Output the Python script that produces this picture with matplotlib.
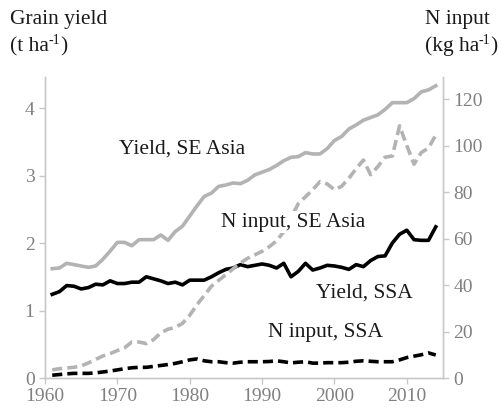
import matplotlib
matplotlib.use("Agg")
import matplotlib.pyplot as plt
import numpy as np

plt.rcParams['font.family'] = ['Liberation Serif', 'DejaVu Serif']

years = np.arange(1961, 2015)

# grain yield, t/ha (left axis)
yield_se_asia = [1.62, 1.63, 1.70, 1.68, 1.66, 1.64, 1.66, 1.76, 1.88, 2.01,
                 2.01, 1.96, 2.05, 2.05, 2.05, 2.12, 2.04, 2.17, 2.25, 2.40,
                 2.55, 2.69, 2.74, 2.84, 2.86, 2.89, 2.88, 2.93, 3.01, 3.05,
                 3.09, 3.15, 3.22, 3.27, 3.28, 3.34, 3.32, 3.32, 3.40, 3.52,
                 3.58, 3.69, 3.75, 3.82, 3.86, 3.90, 3.98, 4.08, 4.08, 4.08,
                 4.14, 4.24, 4.27, 4.33]
yield_ssa = [1.24, 1.28, 1.37, 1.36, 1.32, 1.34, 1.39, 1.38, 1.44, 1.40,
             1.40, 1.42, 1.42, 1.50, 1.47, 1.44, 1.40, 1.42, 1.38, 1.45,
             1.45, 1.45, 1.50, 1.56, 1.61, 1.63, 1.68, 1.65, 1.67, 1.69,
             1.67, 1.63, 1.70, 1.50, 1.58, 1.70, 1.60, 1.63, 1.67, 1.66,
             1.64, 1.61, 1.68, 1.65, 1.74, 1.80, 1.81, 2.00, 2.13, 2.19,
             2.05, 2.04, 2.04, 2.24]

# N input, kg/ha (right axis)
n_se_asia = [3.5, 4.0, 4.3, 4.6, 5.2, 6.5, 8.0, 9.5, 10.5, 11.8,
             13.0, 15.5, 15.5, 14.8, 16.5, 19.5, 21.0, 21.8, 23.5, 27.0,
             31.5, 35.5, 39.5, 42.0, 44.5, 47.0, 49.5, 51.5, 53.0, 54.5,
             56.5, 59.0, 63.0, 69.0, 75.0, 78.0, 81.0, 84.5, 83.5, 81.0,
             82.5, 86.0, 90.0, 93.8, 87.5, 91.0, 95.0, 95.5, 108.5, 100.0,
             92.0, 97.0, 99.0, 104.5]
n_ssa = [1.2, 1.5, 1.8, 2.0, 2.0, 2.0, 2.2, 2.6, 3.0, 3.5,
         4.0, 4.4, 4.6, 4.6, 5.0, 5.4, 5.8, 6.3, 7.0, 7.8,
         8.2, 7.4, 7.0, 7.0, 6.6, 6.4, 6.8, 7.0, 7.0, 7.0,
         7.1, 7.4, 7.0, 6.5, 6.8, 7.0, 6.4, 6.4, 6.6, 6.6,
         6.6, 6.8, 7.2, 7.4, 7.2, 7.0, 7.0, 7.0, 7.8, 8.8,
         9.4, 10.0, 10.8, 9.9]

gray = '#b3b3b3'
tick_gray = '#808080'
spine_gray = '#c8c8c8'
ink = '#1a1a1a'

fig = plt.figure(figsize=(5.01, 4.08), dpi=100)
ax = fig.add_axes([0.0898, 0.0735, 0.7944, 0.7377])
ax2 = ax.twinx()

ax.plot(years, yield_se_asia, color=gray, lw=2.6, zorder=3)
ax.plot(years, yield_ssa, color='black', lw=2.6, zorder=3)
ax2.plot(years, n_se_asia, color=gray, lw=2.6, dashes=(2.8, 1.4), zorder=1)
ax2.plot(years, n_ssa, color='black', lw=2.6, dashes=(2.8, 1.4), zorder=1)

ax.set_xlim(1960, 2015)
ax.set_ylim(0, 4.46)
ax2.set_ylim(0, 129.5)
ax.set_xticks(range(1960, 2011, 10))
ax.set_yticks([0, 1, 2, 3, 4])
ax2.set_yticks(range(0, 121, 20))

for a in (ax, ax2):
    a.spines['top'].set_visible(False)
    for s in ('left', 'right', 'bottom'):
        a.spines[s].set_color(spine_gray)
        a.spines[s].set_linewidth(1.0)
    a.tick_params(colors=spine_gray, labelcolor=tick_gray, labelsize=14,
                  length=4, width=1.0)

# series labels (white box hides the dashed line behind the SE Asia label)
txt = dict(fontsize=15.5, color=ink, ha='center', va='center')
ax.text(1978.9, 3.40, 'Yield, SE Asia', **txt)
ax2.text(1994.3, 67.1, 'N input, SE Asia', zorder=5,
         bbox=dict(facecolor='white', edgecolor='none', pad=1), **txt)
ax.text(2004.1, 1.26, 'Yield, SSA', **txt)
ax.text(1998.8, 0.667, 'N input, SSA', **txt)


def unit_title(x, y, base):
    # "(base ha" + small raised "-1" + ")"
    r = fig.canvas.get_renderer()
    t1 = fig.text(x, y, base + ' ha', fontsize=15.5, color=ink, va='baseline')
    e = t1.get_window_extent(r).transformed(fig.transFigure.inverted())
    t2 = fig.text(e.x1 - 0.001, y + 0.018, '-1', fontsize=10, color=ink, va='baseline')
    e2 = t2.get_window_extent(r).transformed(fig.transFigure.inverted())
    fig.text(e2.x1, y, ')', fontsize=15.5, color=ink, va='baseline')


fig.text(0.02, 0.975, 'Grain yield', fontsize=15.5, color=ink, va='top')
unit_title(0.02, 0.875, '(t')
fig.text(0.848, 0.975, 'N input', fontsize=15.5, color=ink, va='top')
unit_title(0.848, 0.875, '(kg')

fig.savefig('out.png', dpi=100)
